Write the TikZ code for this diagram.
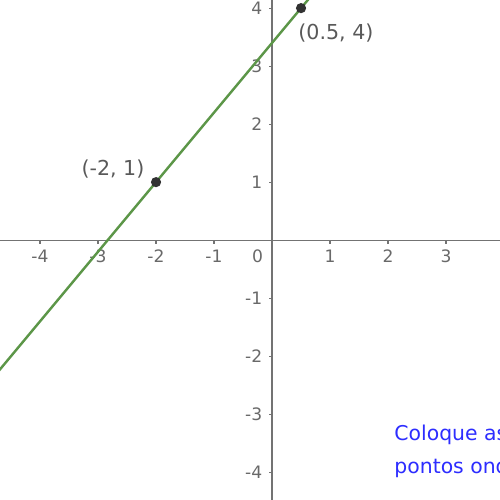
\documentclass[tikz,border=0pt]{standalone}
\usepackage{fontspec}
\setmainfont{DejaVu Sans}
\usetikzlibrary{calc,positioning}
\definecolor{eixocor}{RGB}{115,115,115}
\definecolor{numcor}{RGB}{105,105,105}
\definecolor{retacor}{RGB}{92,150,72}
\definecolor{pontocor}{RGB}{50,50,50}
\definecolor{avisocor}{RGB}{45,45,255}

\begin{document}
\begin{tikzpicture}[
    eixo/.style={draw=eixocor, line width=0.55pt},
    numero/.style={font=\fontsize{8.4}{10}\selectfont, text=numcor, inner sep=0pt},
    reta/.style={draw=retacor, line width=1.2pt},
    rotulo/.style={font=\fontsize{10.1}{12}\selectfont, text=numcor!85!black, inner sep=0pt, anchor=base west},
    aviso/.style={font=\fontsize{10}{12}\selectfont, text=avisocor, inner sep=0pt, anchor=base west}
  ]
    \useasboundingbox (-4.69,-4.48) rectangle (3.93,4.14);
    \clip (-4.69,-4.48) rectangle (3.93,4.14);

    % Eixos
    \draw[eixo] (-4.69,0) -- (3.93,0);
    \draw[eixo] (0,-4.48) -- (0,4.14);
    \foreach \x/\t in {-4/-4,-3/-3,-2/-2,-1/-1,1/1,2/2,3/3}
      \draw[eixo] (\x,0) -- (\x,-0.06) node[numero, anchor=north] at (\x,-0.16) {\t};
    \foreach \y/\t in {-4/-4,-3/-3,-2/-2,-1/-1,1/1,2/2,3/3,4/4}
      \draw[eixo] (0,\y) -- (-0.06,\y) node[numero, anchor=east] at (-0.16,\y) {\t};
    \node[numero, anchor=north east] (zero) at (-0.15,-0.16) {0};

    % Reta pelos dois pontos
    \coordinate (A) at (-2,1);
    \coordinate (B) at (0.5,4);
    \draw[reta] ($(A)!-2!(B)$) -- ($(A)!2!(B)$);
    \fill[pontocor] (A) circle (0.088);
    \fill[pontocor] (B) circle (0.088);
    \node[rotulo] (rotA) at (-3.29,1.121) {(-2, 1)};
    \node[rotulo] (rotB) at (0.448,3.466) {(0.5, 4)};

    % Texto de instrucao (cortado na borda)
    \node[aviso] (aviso1) at (2.103,-3.448) {Coloque as};
    \node[aviso] (aviso2) at (2.103,-4.017) {pontos ond};
  \end{tikzpicture}
\end{document}
